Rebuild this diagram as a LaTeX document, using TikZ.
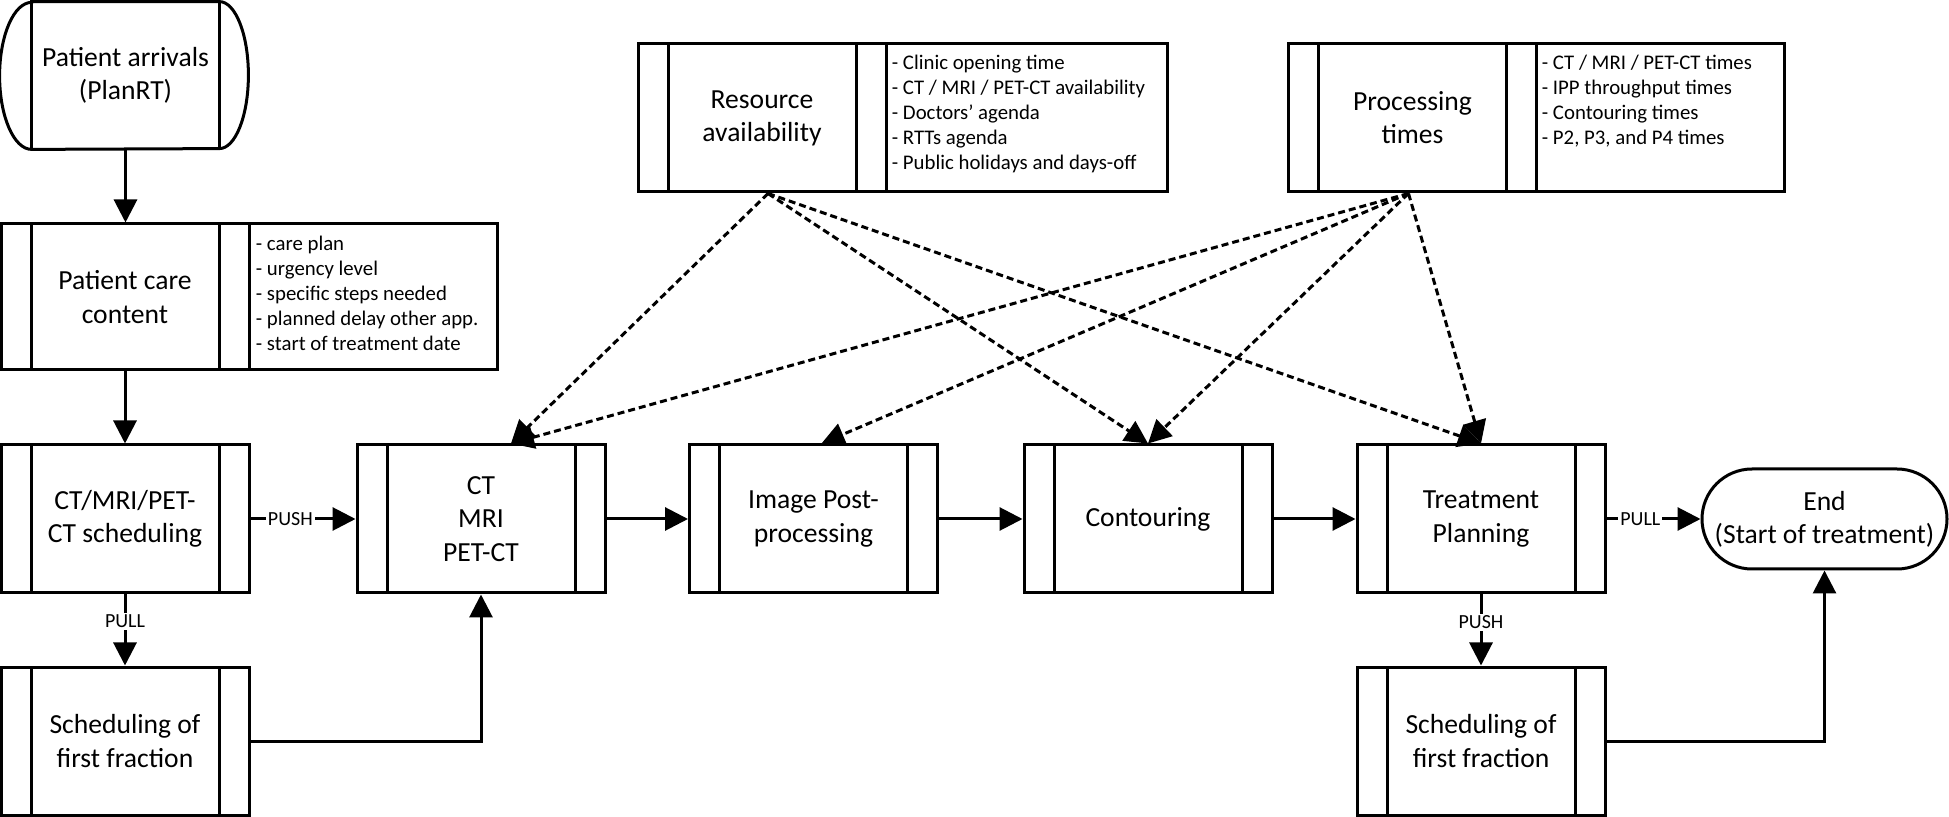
\documentclass[tikz,border=0pt]{standalone}
\usepackage{fontspec}
\setmainfont{Carlito}
\usetikzlibrary{arrows.meta}
\newcommand{\mainfs}{\fontsize{13.8}{16.6}\selectfont}
\newcommand{\smallfs}{\fontsize{10.4}{12.5}\selectfont}
\newcommand{\lblfs}{\fontsize{10}{12}\selectfont}
\begin{document}
\begin{tikzpicture}[x=0.5pt,y=-0.5pt,
  proc/.style={draw, line width=1.5pt, minimum width=124pt, minimum height=74pt, inner sep=1pt, align=center, font=\mainfs,
    path picture={
      \draw[line width=1.5pt] ([xshift=15pt]path picture bounding box.north west) -- ([xshift=15pt]path picture bounding box.south west);
      \draw[line width=1.5pt] ([xshift=-15pt]path picture bounding box.north east) -- ([xshift=-15pt]path picture bounding box.south east);}},
  listbox/.style={draw, line width=1.5pt, minimum height=74pt, inner sep=0pt},
  listtext/.style={anchor=north west, align=left, inner sep=0pt, font=\smallfs},
  flow/.style={line width=1.5pt, -{Triangle[length=11.5pt,width=11.5pt]}},
  dep/.style={line width=1.5pt, dash pattern=on 3.5pt off 2pt, -{Triangle[length=11.5pt,width=11.5pt]}},
  lbl/.style={font=\lblfs, fill=white, inner sep=1pt},
  term/.style={draw, line width=1.5pt, rounded corners=25pt, minimum width=122.5pt, minimum height=50pt, align=center, font=\mainfs, inner sep=0pt}
]
\useasboundingbox (0,0) rectangle (1949,817);

% Patient arrivals
\node[minimum width=93.5pt, minimum height=73.5pt, inner sep=0pt, align=center, font=\mainfs] (arr) at (125.5,75.5) {Patient arrivals\\(PlanRT)};
\draw[line width=1.5pt] (arr.north west) -- (arr.north east)
  arc[start angle=90, end angle=-90, x radius=14.5pt, y radius=36.75pt]
  -- (arr.south west)
  arc[start angle=270, end angle=90, x radius=16pt, y radius=36.75pt] -- cycle;
\draw[line width=1.5pt] (arr.north west) -- (arr.south west) (arr.north east) -- (arr.south east);

% left column
\node[proc, minimum height=73pt] (care) at (125,297) {Patient care\\content};
\node[listbox, minimum width=124pt, minimum height=73pt] (carel) at (373,297) {};
\node[listtext] (carelt) at ([xshift=4pt,yshift=-6.5pt]carel.north west) {- care plan\\- urgency level\\- specific steps needed\\- planned delay other app.\\- start of treatment date};

\node[proc] (sched) at (125,519) {CT/MRI/PET-\\CT scheduling};
\node[proc] (fr1) at (125,741) {Scheduling of\\first fraction};

% main row
\node[proc] (ct) at (481,519) {CT\\MRI\\PET-CT};
\node[proc] (ipp) at (813.5,519) {Image Post-\\processing};
\node[proc] (cont) at (1148,519) {Contouring};
\node[proc] (tp) at (1481,519) {Treatment\\Planning};
\node[proc] (fr2) at (1481,741) {Scheduling of\\first fraction};
\node[term] (end) at (1824.5,519) {End\\(Start of treatment)};

% top boxes
\node[proc] (res) at (762,118) {Resource\\availability};
\node[listbox, minimum width=140.5pt] (resl) at (1026.5,118) {};
\node[listtext] (reslt) at ([xshift=3.5pt,yshift=-6pt]resl.north west) {- Clinic opening time\\- CT / MRI / PET-CT availability\\- Doctors’ agenda\\- RTTs agenda\\- Public holidays and days-off};

\node[proc] (proc) at (1412.5,118) {Processing\\times};
\node[listbox, minimum width=124pt] (procl) at (1660,118) {};
\node[listtext] (proclt) at ([xshift=3.5pt,yshift=-6pt]procl.north west) {- CT / MRI / PET-CT times\\- IPP throughput times\\- Contouring times\\- P2, P3, and P4 times};

% solid flow
\draw[flow] (arr.south) -- (arr.south |- care.north);
\draw[flow] (care) -- (sched);
\draw[flow] (sched) -- node[lbl, pos=0.38] {PUSH} (ct);
\draw[flow] (sched) -- node[lbl, pos=0.38] {PULL} (fr1);
\draw[flow] (fr1.east) -| (ct.south);
\draw[flow] (ct) -- (ipp);
\draw[flow] (ipp) -- (cont);
\draw[flow] (cont) -- (tp);
\draw[flow] (tp) -- node[lbl, pos=0.36] {PULL} (end);
\draw[flow] (tp) -- node[lbl, pos=0.39] {PUSH} (fr2);
\draw[flow] (fr2.east) -| (end.south);

% dashed dependencies
\coordinate (rs) at ([xshift=3pt]res.south);
\coordinate (ps) at ([xshift=-2pt]proc.south);
\coordinate (ctin) at ([xshift=15pt]ct.north);
\coordinate (ippin) at ([xshift=4pt]ipp.north);
\draw[dep] (rs) -- (ctin);
\draw[dep] (rs) -- (cont.north);
\draw[dep] (rs) -- (tp.north);
\draw[dep] (ps) -- (ctin);
\draw[dep] (ps) -- (ippin);
\draw[dep] (ps) -- (cont.north);
\draw[dep] (ps) -- (tp.north);
\end{tikzpicture}
\end{document}
